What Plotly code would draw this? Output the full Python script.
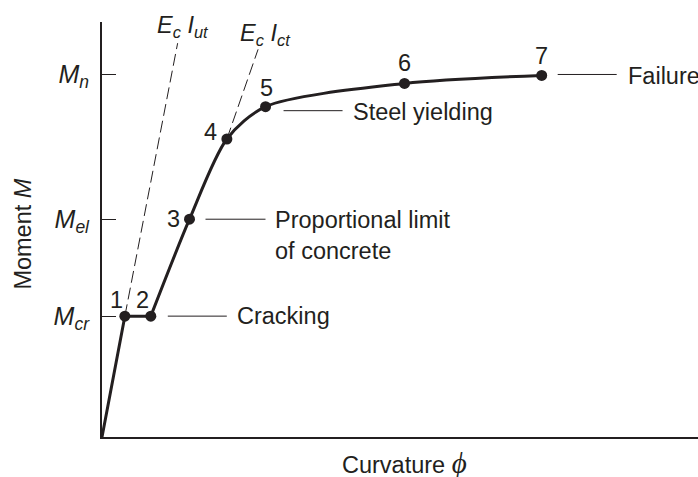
import plotly.graph_objects as go

# ---- data (curvature normalised by phi at failure, moment normalised by M_n) ----
point_labels = ["1", "2", "3", "4", "5", "6", "7"]
phi = [0.052, 0.111, 0.199, 0.284, 0.372, 0.688, 1.000]
moment = [0.333, 0.333, 0.600, 0.821, 0.910, 0.974, 0.996]
origin = [0.0, 0.0]

ytick_vals = [0.333, 0.600, 1.000]
ytick_text = ["<i>M<sub>cr</sub></i>", "<i>M<sub>el</sub></i>", "<i>M<sub>n</sub></i>"]

ec_iut_phi = [0.052, 0.172]
ec_iut_M = [0.333, 1.085]
ec_ict_phi = [0.284, 0.355]
ec_ict_M = [0.821, 1.068]
stiffness_labels = ["<i>E<sub>c</sub> I<sub>ut</sub></i>", "<i>E<sub>c</sub> I<sub>ct</sub></i>"]

callout_points = [1, 2, 4, 6]
callout_text = ["Cracking", "Proportional limit<br>of concrete", "Steel yielding", "Failure"]

x_title = ("Curvature <span style='font-family:Liberation Serif;font-size:29px'>"
           "<i>\u03d5</i></span>")
y_title = "Moment <i>M</i>"

# ---- style ----
INK = "#231f20"
FONT = "Liberation Sans, Arial, Helvetica, sans-serif"
FS = 23.5

fig = go.Figure()

# dashed stiffness lines
for xs, ys in [(ec_iut_phi, ec_iut_M), (ec_ict_phi, ec_ict_M)]:
    fig.add_trace(go.Scatter(x=xs, y=ys, mode="lines",
                             line=dict(color=INK, width=1, dash="12px,5px"),
                             hoverinfo="skip", showlegend=False))

# linear part: origin -> 1 -> 2
fig.add_trace(go.Scatter(x=[origin[0]] + phi[:2], y=[origin[1]] + moment[:2],
                         mode="lines", line=dict(color=INK, width=3),
                         showlegend=False))
# smooth part: 2 -> 7
fig.add_trace(go.Scatter(x=phi[1:], y=moment[1:], mode="lines",
                         line=dict(color=INK, width=3, shape="spline", smoothing=0.8),
                         showlegend=False))
# points
fig.add_trace(go.Scatter(x=phi, y=moment, mode="markers",
                         marker=dict(color=INK, size=11), showlegend=False))

annotations = []
# point numbers
num_shift = [(-8, 16), (-8, 16), (-16, 0), (-16, 7), (1, 19), (0, 20), (0, 19)]
for i, lab in enumerate(point_labels):
    dx, dy = num_shift[i]
    annotations.append(dict(x=phi[i], y=moment[i], text=lab, showarrow=False,
                            xshift=dx, yshift=dy, font=dict(size=FS, color=INK, family=FONT)))

# callouts
line_off = [(17, 76, 0), (16, 76, 0), (18, 77, -4), (16, 75, 1)]
text_off = [(84, 0), (83, -16), (85, -5), (84, -1)]
shapes = []
for k, idx in enumerate(callout_points):
    x0, x1, yo = line_off[k]
    shapes.append(dict(type="line", xref="x", yref="y",
                       xsizemode="pixel", xanchor=phi[idx], x0=x0, x1=x1,
                       ysizemode="pixel", yanchor=moment[idx], y0=yo, y1=yo,
                       line=dict(color=INK, width=1)))
    tx, ty = text_off[k]
    annotations.append(dict(x=phi[idx], y=moment[idx], text=callout_text[k], showarrow=False,
                            xanchor="left", yanchor="middle", align="left",
                            xshift=tx, yshift=ty,
                            font=dict(size=FS, color=INK, family=FONT)))

# stiffness labels
for lab, xs, ys, sh in [(stiffness_labels[0], ec_iut_phi, ec_iut_M, (5, 17)),
                        (stiffness_labels[1], ec_ict_phi, ec_ict_M, (7, 15))]:
    annotations.append(dict(x=xs[-1], y=ys[-1], text=lab, showarrow=False,
                            xshift=sh[0], yshift=sh[1],
                            font=dict(size=FS, color=INK, family=FONT)))

# axis titles
annotations.append(dict(xref="paper", yref="paper", x=0.508, y=-0.062, text=x_title,
                        showarrow=False, xanchor="center", yanchor="middle",
                        font=dict(size=FS, color=INK, family=FONT)))
annotations.append(dict(xref="paper", yref="paper", x=-0.1326, y=0.49, text=y_title,
                        showarrow=False, textangle=-90, xanchor="center", yanchor="middle",
                        font=dict(size=FS, color=INK, family=FONT)))

fig.update_layout(
    width=698, height=477,
    margin=dict(l=102, r=0, t=22, b=40),
    paper_bgcolor="white", plot_bgcolor="white",
    font=dict(family=FONT, size=FS, color=INK),
    showlegend=False,
    annotations=annotations,
    shapes=shapes,
    xaxis=dict(range=[0, 1.3555], showgrid=False, zeroline=False, showticklabels=False,
               ticks="", showline=True, linecolor=INK, linewidth=2, fixedrange=True),
    yaxis=dict(range=[0, 1.1433], showgrid=False, zeroline=False,
               tickvals=ytick_vals, ticktext=ytick_text, ticks="inside", ticklen=14,
               tickwidth=1, tickcolor=INK, ticklabelstandoff=6,
               tickfont=dict(size=25, color=INK, family=FONT),
               showline=True, linecolor=INK, linewidth=2, fixedrange=True),
)

fig.write_html("out.html", config={"displayModeBar": False},
               post_script="document.body.style.margin='0';document.body.style.overflow='hidden';")
